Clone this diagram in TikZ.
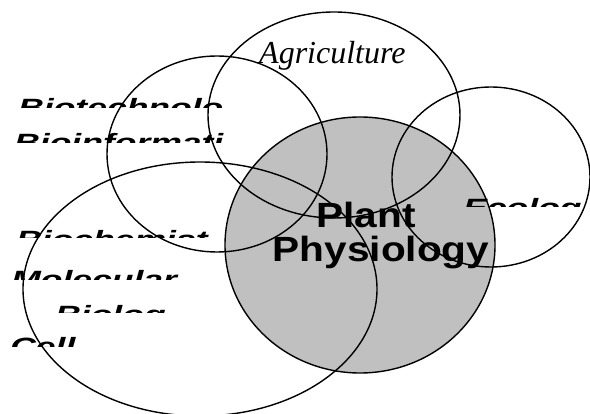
\documentclass[tikz,border=0pt]{standalone}
\usepackage{fontspec}
\setmainfont{Liberation Serif}
\setsansfont{Liberation Sans}
\newfontfamily\lblfont{Liberation Sans}
\tikzset{
  ring/.style={draw=black, line width=1.4pt},
  core/.style={fill={rgb,255:red,192;green,192;blue,192}},
  sidelabel/.style={anchor=base west, inner sep=0pt, font=\lblfont\bfseries\itshape\fontsize{25}{30}\selectfont, xscale=1.42},
  mainlabel/.style={anchor=base, inner sep=0pt, font=\lblfont\bfseries\fontsize{35}{38}\selectfont, xscale=1.16},
  agrilabel/.style={anchor=base west, inner sep=0pt, font=\itshape\fontsize{32}{34}\selectfont}
}
\begin{document}
\begin{tikzpicture}[x=1pt,y=-1pt]
\useasboundingbox (0,0) rectangle (590,414);
% gray core circle
\fill[core] (360,245) ellipse (135pt and 128pt);
% labels (clipped at their lower part)
\begin{scope}\clip (0,85) rectangle (590,108);
\node[sidelabel] (biotech) at (18,117) {Biotechnolo};\end{scope}
\begin{scope}\clip (0,120) rectangle (590,143);
\node[sidelabel] (bioinf) at (14,152) {Bioinformati};\end{scope}
\begin{scope}\clip (0,217) rectangle (590,238);
\node[sidelabel] (biochem) at (16,249) {Biochemist};\end{scope}
\begin{scope}\clip (0,257) rectangle (590,280);
\node[sidelabel] (molec) at (11,289) {Molecular};\end{scope}
\begin{scope}\clip (0,292) rectangle (590,313);
\node[sidelabel] (biolog) at (55,324) {Biolog};\end{scope}
\begin{scope}\clip (0,324) rectangle (590,347);
\node[sidelabel] (cell) at (10,356) {Cell};\end{scope}
\begin{scope}\clip (0,185) rectangle (590,207);
\node[sidelabel] (ecolog) at (463,217) {Ecolog};\end{scope}
\node[agrilabel] (agri) at (259,64) {Agriculture};
\node[mainlabel] (plant) at (366,228) {Plant};
\node[mainlabel] (physio) at (381,262) {Physiology};
% outlines
\draw[ring] (360,245) ellipse (135pt and 128pt);
\draw[ring] (217,154) ellipse (110pt and 98pt);
\draw[ring] (334,115) ellipse (126pt and 103pt);
\draw[ring] (491,177) ellipse (99pt and 90pt);
\draw[ring] (200,289) ellipse (177pt and 127pt);
\end{tikzpicture}
\end{document}
